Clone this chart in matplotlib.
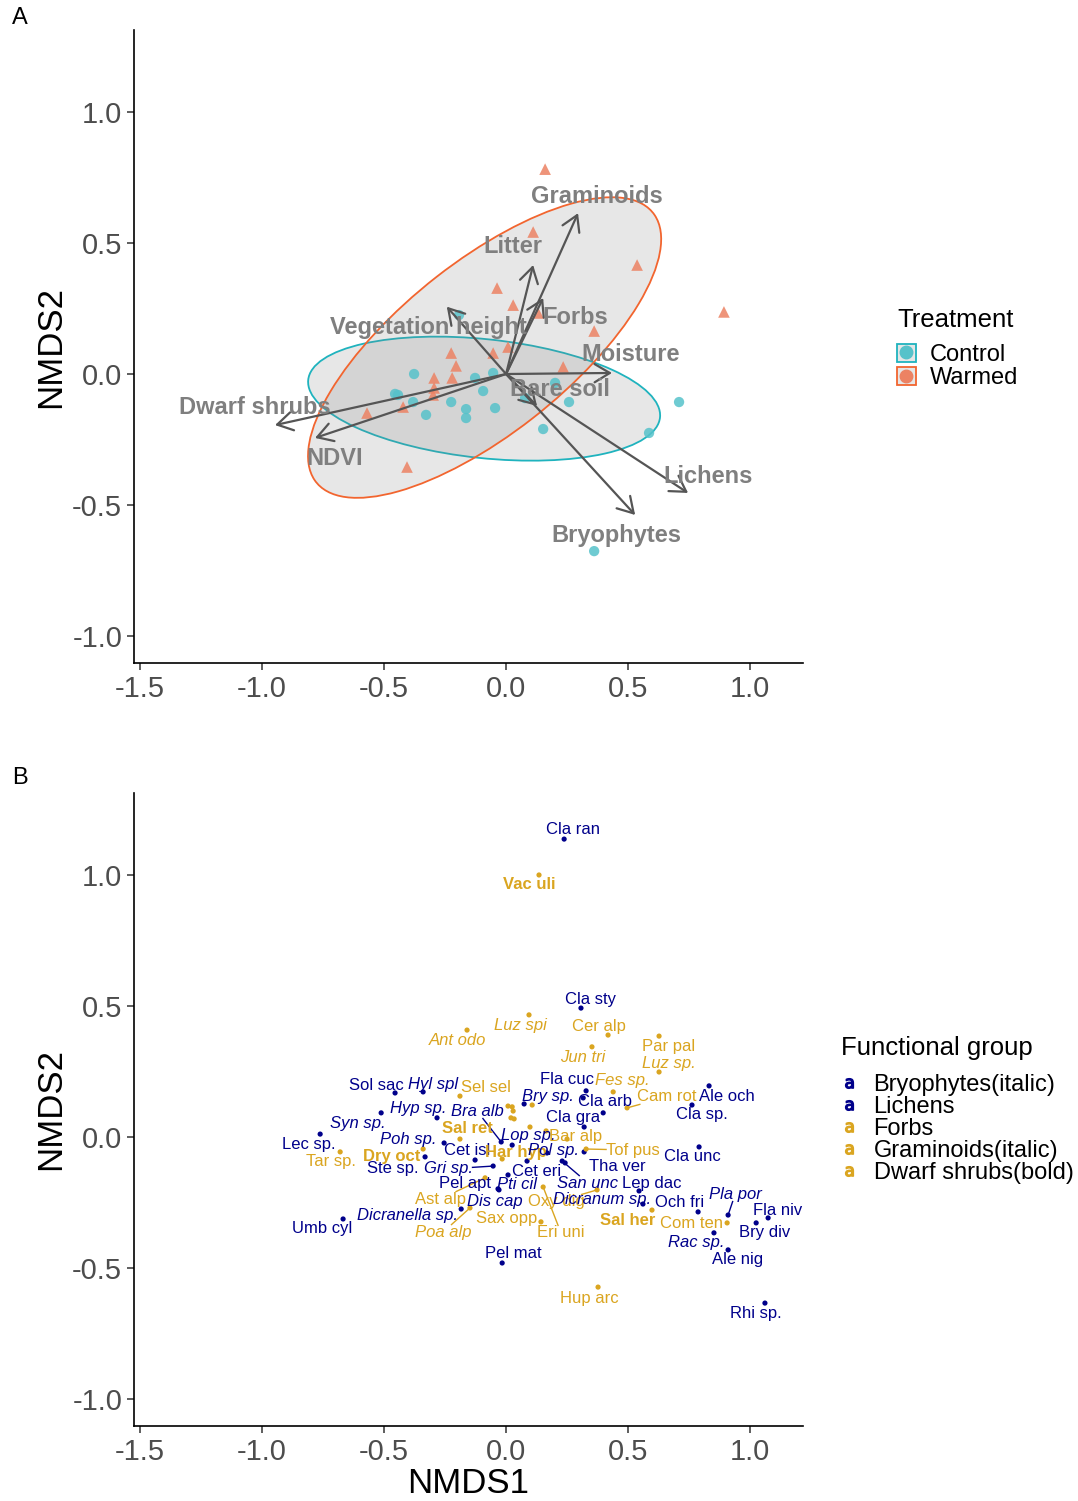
import matplotlib.pyplot as plt
import numpy as np
from matplotlib.lines import Line2D
from matplotlib.patches import Ellipse, Patch
from matplotlib.ticker import FormatStrFormatter

plt.rcParams["font.family"] = ["Liberation Sans", "DejaVu Sans"]
plt.rcParams["axes.unicode_minus"] = False

# ---- panel A: plot scores ----
ctrl_x = [-0.377, -0.455, -0.443, -0.381, -0.328, -0.225, -0.164, -0.164, -0.127, -0.094,
          -0.053, -0.045, 0.201, 0.152, 0.258, 0.709, 0.586, 0.361, -0.193, 0.078]
ctrl_y = [0.000, -0.076, -0.080, -0.107, -0.156, -0.107, -0.134, -0.168, -0.015, -0.065,
          0.004, -0.130, -0.034, -0.210, -0.107, -0.107, -0.225, -0.676, 0.225, -0.092]
warm_x = [0.160, 0.111, 0.537, -0.037, 0.029, 0.893, 0.131, 0.361, -0.053, -0.225,
          -0.205, -0.221, -0.295, -0.295, -0.299, 0.008, 0.234, -0.422, -0.570, -0.406]
warm_y = [0.782, 0.542, 0.416, 0.328, 0.263, 0.237, 0.233, 0.164, 0.080, 0.080,
          0.031, -0.015, -0.015, -0.053, -0.080, 0.103, 0.027, -0.126, -0.149, -0.355]

# 95% ellipses: centre x, centre y, width, height, angle
ell_ctrl = (-0.090, -0.094, 1.449, 0.454, -5.6)
ell_warm = (-0.088, 0.101, 1.722, 0.668, 36.0)

# fitted environmental vectors
env_names = ["Graminoids", "Litter", "Forbs", "Vegetation height", "Moisture", "Bare soil",
             "Lichens", "Bryophytes", "Dwarf shrubs", "NDVI"]
env_x = [0.295, 0.111, 0.152, -0.243, 0.434, 0.127, 0.746, 0.529, -0.947, -0.783]
env_y = [0.614, 0.416, 0.290, 0.257, 0.004, -0.122, -0.454, -0.538, -0.195, -0.244]
env_lab_x = [0.373, 0.029, 0.283, -0.320, 0.512, 0.221, 0.828, 0.451, -1.029, -0.701]
env_lab_y = [0.679, 0.485, 0.214, 0.179, 0.073, -0.061, -0.393, -0.615, -0.126, -0.321]

# ---- panel B: species scores ----
# group: B bryophyte, L lichen, F forb, G graminoid, D dwarf shrub
sp_names = ["Cla ran", "Vac uli", "Cla sty", "Luz spi", "Ant odo", "Cer alp", "Jun tri", "Par pal",
            "Luz sp.", "Fla cuc", "Fes sp.", "Bry sp.", "Cla arb", "Cam rot", "Ale och", "Cla sp.",
            "Cla gra", "", "Sol sac", "Hyl spl", "Sel sel", "Hyp sp.", "Bra alb", "Syn sp.",
            "Lec sp.", "Tar sp.", "Sal ret", "Poh sp.", "Dry oct", "Ste sp.", "Cet isl", "Gri sp.",
            "Har hyp", "Lop sp.", "Pol sp.", "", "Tof pus", "Bar alp", "", "",
            "", "", "", "", "", "", "Cet eri", "Pti cil",
            "Pel apt", "Dis cap", "Ast alp", "Dicranella sp.", "Poa alp", "Sax opp", "Oxy dig", "Eri uni",
            "Umb cyl", "Pel mat", "Hup arc", "Rhi sp.", "Cla unc", "Tha ver", "San unc", "Lep dac",
            "Dicranum sp.", "Och fri", "Pla por", "Fla niv", "Bry div", "Com ten", "Sal her", "Rac sp.",
            "Ale nig"]
sp_group = ["L", "D", "L", "G", "G", "F", "G", "F",
            "G", "L", "G", "B", "L", "F", "L", "L",
            "L", "L", "L", "B", "F", "B", "B", "B",
            "L", "F", "D", "B", "D", "L", "L", "B",
            "D", "B", "B", "B", "F", "F", "F", "F",
            "F", "F", "G", "F", "G", "F", "L", "B",
            "L", "B", "F", "B", "G", "F", "F", "F",
            "L", "L", "F", "L", "L", "L", "B", "L",
            "B", "L", "B", "L", "L", "F", "D", "B",
            "L"]
sp_x = [0.238, 0.135, 0.307, 0.094, -0.160, 0.418, 0.352, 0.627,
        0.627, 0.328, 0.439, 0.074, 0.398, 0.496, 0.832, 0.762,
        0.320, 0.316, -0.455, -0.340, -0.189, -0.283, -0.020, -0.512,
        -0.762, -0.680, -0.189, -0.254, -0.340, -0.332, -0.127, -0.053,
        -0.016, 0.025, 0.320, 0.168, 0.328, 0.164, 0.098, 0.250,
        0.107, 0.008, 0.025, 0.029, 0.020, 0.033, 0.086, 0.008,
        -0.033, -0.029, -0.086, -0.184, -0.148, 0.143, 0.373, 0.152,
        -0.668, -0.016, 0.377, 1.061, 0.791, 0.242, 0.230, 0.545,
        0.561, 0.787, 0.910, 1.074, 1.025, 0.906, 0.598, 0.852,
        0.910]
sp_y = [1.137, 1.000, 0.492, 0.466, 0.408, 0.389, 0.344, 0.385,
        0.248, 0.176, 0.172, 0.126, 0.092, 0.111, 0.195, 0.122,
        0.038, 0.149, 0.168, 0.172, 0.156, 0.073, -0.019, 0.092,
        0.011, -0.057, -0.008, -0.023, -0.046, -0.076, -0.088, -0.111,
        -0.084, -0.031, -0.057, -0.061, -0.046, 0.023, 0.038, -0.008,
        0.122, 0.118, 0.115, 0.099, 0.073, 0.069, -0.092, -0.145,
        -0.198, -0.202, -0.156, -0.275, -0.271, -0.324, -0.202, -0.191,
        -0.313, -0.481, -0.573, -0.634, -0.038, -0.099, -0.092, -0.206,
        -0.256, -0.286, -0.298, -0.309, -0.328, -0.328, -0.279, -0.366,
        -0.431]

# label positions after repelling (data units), nan = not labelled
nan = np.nan
lab_x = [0.275, 0.094, 0.348, 0.057, -0.201, 0.381, 0.316, 0.668,
         0.668, 0.250, 0.475, 0.172, 0.406, 0.660, 0.906, 0.803,
         0.275, nan, -0.533, -0.299, -0.082, -0.361, -0.119, -0.607,
         -0.807, -0.717, -0.160, -0.402, -0.467, -0.463, -0.160, -0.238,
         0.041, 0.090, 0.193, nan, 0.520, 0.283, nan, nan,
         nan, nan, nan, nan, nan, nan, 0.127, 0.045,
         -0.168, -0.045, -0.270, -0.406, -0.258, 0.004, 0.205, 0.225,
         -0.754, 0.029, 0.340, 1.025, 0.762, 0.455, 0.336, 0.598,
         0.393, 0.713, 0.939, 1.115, 1.061, 0.762, 0.500, 0.779,
         0.947]
lab_y = [1.172, 0.962, 0.523, 0.427, 0.370, 0.420, 0.305, 0.347,
         0.279, 0.218, 0.214, 0.153, 0.137, 0.153, 0.156, 0.084,
         0.073, nan, 0.198, 0.202, 0.187, 0.107, 0.099, 0.053,
         -0.027, -0.095, 0.031, -0.011, -0.073, -0.122, -0.050, -0.122,
         -0.061, 0.004, -0.050, nan, -0.050, 0.000, nan, nan,
         nan, nan, nan, nan, nan, nan, -0.130, -0.183,
         -0.179, -0.248, -0.237, -0.298, -0.363, -0.313, -0.248, -0.366,
         -0.351, -0.443, -0.615, -0.672, -0.073, -0.111, -0.176, -0.176,
         -0.240, -0.252, -0.218, -0.279, -0.366, -0.332, -0.317, -0.401,
         -0.469]
with_segment = ["Cam rot", "Bra alb", "Gri sp.", "Tof pus", "Ast alp", "Poa alp",
                "Oxy dig", "Eri uni", "San unc", "Pla por"]

blue = "#00008B"
gold = "#DAA520"
grp_color = {"B": blue, "L": blue, "F": gold, "G": gold, "D": gold}
grp_style = {"B": "italic", "L": "normal", "F": "normal", "G": "italic", "D": "normal"}
grp_weight = {"B": "normal", "L": "normal", "F": "normal", "G": "normal", "D": "bold"}
grp_legend = [("B", "Bryophytes(italic)"), ("L", "Lichens"), ("F", "Forbs"),
              ("G", "Graminoids(italic)"), ("D", "Dwarf shrubs(bold)")]

ctrl_col = "#1FB3BE"
warm_col = "#F2652F"


def style_ax(ax):
    ax.set_xlim(-1.525, 1.217)
    ax.set_ylim(-1.103, 1.313)
    ax.set_xticks([-1.5, -1.0, -0.5, 0.0, 0.5, 1.0])
    ax.set_yticks([-1.0, -0.5, 0.0, 0.5, 1.0])
    ax.xaxis.set_major_formatter(FormatStrFormatter("%.1f"))
    ax.yaxis.set_major_formatter(FormatStrFormatter("%.1f"))
    for s in ["top", "right"]:
        ax.spines[s].set_visible(False)
    for s in ["left", "bottom"]:
        ax.spines[s].set_linewidth(1.2)
    ax.tick_params(labelsize=21, labelcolor="#4d4d4d", color="#333333", length=5, width=1.1)
    ax.set_ylabel("NMDS2", fontsize=25)


fig = plt.figure(figsize=(10.78, 15.01), dpi=100)
ax1 = fig.add_axes([0.1243, 0.5583, 0.6206, 0.4217])
ax2 = fig.add_axes([0.1243, 0.0500, 0.6206, 0.4217])

# panel A
for (cx, cy, w, h, a), col in [(ell_ctrl, ctrl_col), (ell_warm, warm_col)]:
    ax1.add_patch(Ellipse((cx, cy), w, h, angle=a, facecolor="#7f7f7f", alpha=0.18, edgecolor="none"))
    ax1.add_patch(Ellipse((cx, cy), w, h, angle=a, facecolor="none", edgecolor=col, lw=1.3))

ax1.scatter(ctrl_x, ctrl_y, s=55, marker="o", color="#56C2CA", alpha=0.85, edgecolors="none", zorder=3)
ax1.scatter(warm_x, warm_y, s=70, marker="^", color="#EC8263", alpha=0.85, edgecolors="none", zorder=3)

for name, x, y, lx, ly in zip(env_names, env_x, env_y, env_lab_x, env_lab_y):
    ax1.annotate("", xy=(x, y), xytext=(0, 0),
                 arrowprops=dict(arrowstyle="->,head_length=0.55,head_width=0.33", color="#555555",
                                 lw=1.6, shrinkA=0, shrinkB=0, mutation_scale=20), zorder=4)
    ax1.text(lx, ly, name, fontsize=17, fontweight="bold", color="#7f7f7f",
             ha="center", va="center", zorder=5)

style_ax(ax1)

treat_handles = [
    (Patch(facecolor="#e6e6e6", edgecolor=ctrl_col, lw=1.3),
     Line2D([], [], marker="o", ls="", color="#56C2CA", markersize=9)),
    (Patch(facecolor="#e6e6e6", edgecolor=warm_col, lw=1.3),
     Line2D([], [], marker="o", ls="", color="#EC8263", markersize=9)),
]
fig.text(897 / 1078, 1 - 320 / 1501, "Treatment", fontsize=18.5, ha="left", va="center")
fig.legend(treat_handles, ["Control", "Warmed"],
           loc="center left", bbox_to_anchor=(897 / 1078, 1 - 366.5 / 1501),
           frameon=False, fontsize=17, handlelength=0.8, handleheight=0.8, handletextpad=0.6,
           labelspacing=0.05, borderpad=0, borderaxespad=0)

# panel B
sp_x = np.array(sp_x)
sp_y = np.array(sp_y)
for g in ["B", "L", "F", "G", "D"]:
    m = np.array([gg == g for gg in sp_group])
    ax2.scatter(sp_x[m], sp_y[m], s=14, color=grp_color[g], edgecolors="none", zorder=3)

seg_texts = []
for name, g, x, y, lx, ly in zip(sp_names, sp_group, sp_x, sp_y, lab_x, lab_y):
    if not name:
        continue
    t = ax2.text(lx, ly, name, fontsize=12, color=grp_color[g], fontstyle=grp_style[g],
                 fontweight=grp_weight[g], ha="center", va="center", zorder=4)
    if name in with_segment:
        seg_texts.append((t, x, y, grp_color[g]))

style_ax(ax2)
ax2.set_xlabel("NMDS1", fontsize=25, labelpad=1)

# segments from point to the nearest edge of its label
fig.canvas.draw()
renderer = fig.canvas.get_renderer()
inv = ax2.transData.inverted()
for t, x, y, col in seg_texts:
    bb = t.get_window_extent(renderer)
    p = ax2.transData.transform((x, y))
    c = np.array([(bb.x0 + bb.x1) / 2, (bb.y0 + bb.y1) / 2])
    d = c - p
    ss = []
    if d[0] != 0:
        ss.append(((bb.x0 if d[0] > 0 else bb.x1) - p[0]) / d[0])
    if d[1] != 0:
        ss.append(((bb.y0 if d[1] > 0 else bb.y1) - p[1]) / d[1])
    s = max(ss)
    if s <= 0.05:
        continue
    e = inv.transform(p + s * d)
    ax2.plot([x, e[0]], [y, e[1]], color=col, lw=1.0, zorder=2)

fg_handles = [Line2D([], [], marker=r"$\mathsf{a}$", ls="", color=grp_color[g], markersize=7)
              for g, _ in grp_legend]
fig.text(841 / 1078, 1 - 1048 / 1501, "Functional group", fontsize=18.5, ha="left", va="center")
fig.legend(fg_handles, [lab for _, lab in grp_legend],
           loc="center left", bbox_to_anchor=(837 / 1078, 1 - 1129 / 1501),
           frameon=False, fontsize=17, handlelength=1.0, handletextpad=0.55, labelspacing=0.0,
           borderpad=0, borderaxespad=0)

fig.text(20 / 1078, 1 - 18 / 1501, "A", fontsize=17, ha="center", va="center")
fig.text(20 / 1078, 1 - 778 / 1501, "B", fontsize=17, ha="center", va="center")

plt.savefig("out.png", dpi=100)
